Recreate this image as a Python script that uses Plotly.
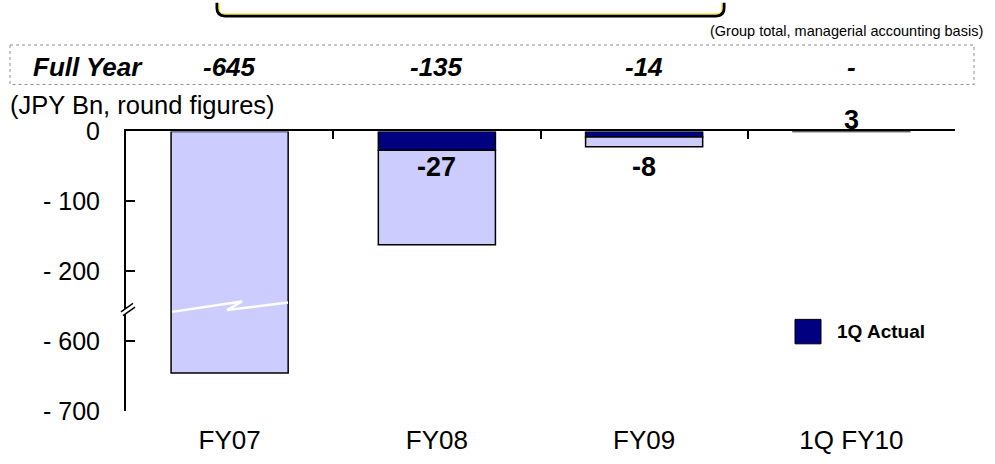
import plotly.graph_objects as go

# ---- data -------------------------------------------------------------
categories = ["FY07", "FY08", "FY09", "1Q FY10"]
q1_actual = [None, -27, -8, 3]          # 1Q actual (JPY Bn)
full_year = [-645, -135, -14, None]     # full-year figures (JPY Bn)
y_tick_values = [0, -100, -200, -600, -700]
y_tick_text = ["0", "- 100", "- 200", "- 600", "- 700"]

# ---- canvas / helpers -------------------------------------------------
W, H = 995, 464
FONT = "Liberation Sans, Arial, sans-serif"
NAVY = "#000080"
LAVENDER = "#CCCCFF"

# The value axis is broken between -200 and -600: values below the break
# are shifted up by 300 so -600 sits one step under -200.
BREAK_SHIFT = 300


def disp(v):
    if v is None:
        return None
    return v + BREAK_SHIFT if v < -300 else v


def px(x):
    return x / W


def py(y):
    return 1 - y / H


PLOT_L, PLOT_R = 126, 955
PLOT_T, PLOT_B = 125, 423

fig = go.Figure()

# stacked: 1Q actual first (touching the zero line), full year below it
fig.add_trace(go.Bar(
    x=categories, y=[disp(v) for v in q1_actual], name="1Q Actual",
    marker=dict(color=NAVY, line=dict(color="black", width=1.5)),
    showlegend=False, hoverinfo="skip",
))
fig.add_trace(go.Bar(
    x=categories, y=[disp(v) for v in full_year], name="Full Year",
    marker=dict(color=LAVENDER, line=dict(color="black", width=1.5)),
    showlegend=False, hoverinfo="skip",
))
# carrier for the top (zero-line) category axis
fig.add_trace(go.Scatter(
    x=categories, y=[0] * len(categories), xaxis="x2", yaxis="y",
    mode="markers", marker=dict(opacity=0), showlegend=False, hoverinfo="skip",
))

annotations = []


def label(x, y, text, size, xref="paper", yref="paper", xanchor="center",
          yanchor="middle"):
    annotations.append(dict(
        x=x, xref=xref, y=y, yref=yref, xanchor=xanchor, yanchor=yanchor,
        text=text, showarrow=False,
        font=dict(family=FONT, size=size, color="black")))


# value labels for the 1Q bars
for cat, v in zip(categories, q1_actual):
    if v is None:
        continue
    ypos = py(163) if v < 0 else py(113)
    label(cat, ypos, f"<b>{v}</b>", 27, xref="x")

# full-year row
label(px(88), py(56), "<b><i>Full Year</i></b>", 26)
for cat, v in zip(categories, full_year):
    label(cat, py(56), "<b><i>%s</i></b>" % ("-" if v is None else str(v)), 26,
          xref="x")

label(px(8), py(97), "(JPY Bn, round figures)", 25.5, xanchor="left")
label(px(985), py(18), "(Group total, managerial accounting basis)", 14.5,
      xanchor="right")
label(px(835), py(338), "<b>1Q Actual</b>", 19, xanchor="left")

shapes = []
# dotted frame around the full-year row
shapes.append(dict(type="rect", xref="paper", yref="paper",
                   x0=px(10), x1=px(974), y0=py(33), y1=py(75),
                   line=dict(color="#909090", width=1, dash="dot")))
# legend swatch
shapes.append(dict(type="rect", xref="paper", yref="paper",
                   x0=px(795), x1=px(821), y0=py(325), y1=py(351),
                   fillcolor=NAVY, line=dict(color="black", width=1)))


def path(points, close=False):
    s = "M " + " L ".join(f"{px(x):.5f},{py(y):.5f}" for x, y in points)
    return s + (" Z" if close else "")


# white zig-zag marking the break across the FY07 bar
shapes.append(dict(type="path", xref="paper", yref="paper",
                   path=path([(172, 317), (242, 306), (227, 315), (288, 307)]),
                   line=dict(color="white", width=2.5)))
# break marks on the value axis
shapes.append(dict(type="path", xref="paper", yref="paper",
                   path=path([(121, 317), (133, 308), (135, 312), (123, 321)], close=True),
                   fillcolor="white", line=dict(color="white", width=0)))
shapes.append(dict(type="path", xref="paper", yref="paper",
                   path=path([(121, 317), (133, 308)]),
                   line=dict(color="black", width=1.5)))
shapes.append(dict(type="path", xref="paper", yref="paper",
                   path=path([(123, 321), (135, 312)]),
                   line=dict(color="black", width=1.5)))

# bottom edge of the rounded header box at the top of the page
bx0, bx1, by = 217, 724, 2
r = 8
box = (f"M {px(bx0):.5f},{py(-12):.5f} L {px(bx0):.5f},{py(by - r):.5f} "
       f"Q {px(bx0):.5f},{py(by):.5f} {px(bx0 + r):.5f},{py(by):.5f} "
       f"L {px(bx1 - r):.5f},{py(by):.5f} "
       f"Q {px(bx1):.5f},{py(by):.5f} {px(bx1):.5f},{py(by - r):.5f} "
       f"L {px(bx1):.5f},{py(-12):.5f}")
shapes.append(dict(type="path", xref="paper", yref="paper", path=box,
                   line=dict(color="black", width=3)))
box_in = (f"M {px(bx0 + 2):.5f},{py(-12):.5f} L {px(bx0 + 2):.5f},{py(by - r):.5f} "
          f"Q {px(bx0 + 2):.5f},{py(by - 2):.5f} {px(bx0 + r):.5f},{py(by - 2):.5f} "
          f"L {px(bx1 - r):.5f},{py(by - 2):.5f} "
          f"Q {px(bx1 - 2):.5f},{py(by - 2):.5f} {px(bx1 - 2):.5f},{py(by - r):.5f} "
          f"L {px(bx1 - 2):.5f},{py(-12):.5f}")
shapes.append(dict(type="path", xref="paper", yref="paper", path=box_in,
                   line=dict(color="#E8E000", width=1)))

fig.update_layout(
    width=W, height=H,
    margin=dict(l=0, r=0, t=0, b=0),
    paper_bgcolor="white", plot_bgcolor="white",
    barmode="relative", bargap=0.435,
    font=dict(family=FONT, color="black"),
    xaxis=dict(
        domain=[px(PLOT_L), px(PLOT_R)], anchor="y",
        type="category", categoryorder="array", categoryarray=categories,
        range=[-0.5, 3.5], showline=False, showgrid=False, zeroline=False,
        ticks="", ticklabelstandoff=11,
        tickfont=dict(family=FONT, size=26, color="black"),
    ),
    xaxis2=dict(
        domain=[px(PLOT_L), px(PLOT_R)], anchor="y", overlaying="x", side="top",
        type="category", categoryorder="array", categoryarray=categories,
        range=[-0.5, 3.5], showline=True, linecolor="black", linewidth=2,
        ticks="inside", tickson="boundaries", ticklen=8, tickwidth=1.5,
        tickcolor="black", showticklabels=False, showgrid=False, zeroline=False,
    ),
    yaxis=dict(
        domain=[py(PLOT_B), py(PLOT_T)], anchor="x",
        range=[disp(y_tick_values[-1]), 0],
        tickmode="array", tickvals=[disp(v) for v in y_tick_values],
        ticktext=y_tick_text, ticks="inside", ticklen=9, tickwidth=1.5,
        tickcolor="black", showline=True, linecolor="black", linewidth=2,
        showgrid=False, zeroline=False, ticklabelstandoff=19,
        tickfont=dict(family=FONT, size=25, color="black"),
    ),
    annotations=annotations,
    shapes=shapes,
)

fig.write_html("out.html")
